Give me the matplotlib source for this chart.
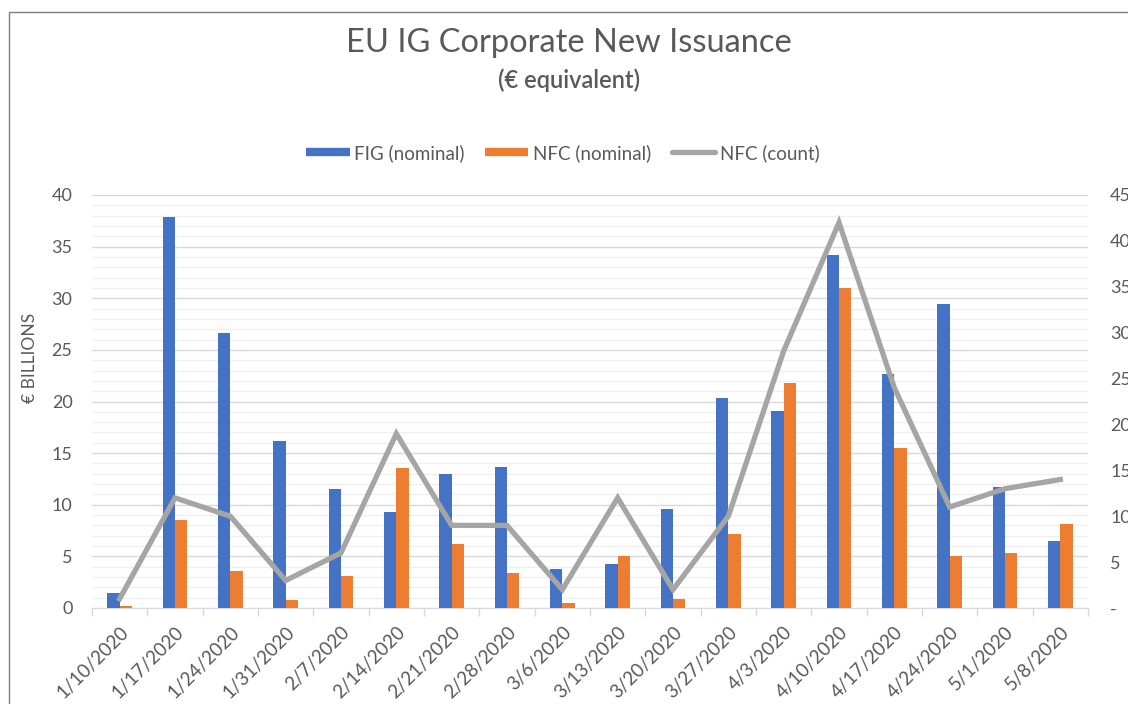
import numpy as np
import matplotlib.pyplot as plt
from matplotlib.lines import Line2D
from matplotlib.patches import Rectangle
from matplotlib.ticker import FuncFormatter

plt.rcParams['font.family'] = ['Lato', 'DejaVu Sans']

# Data
dates = ["1/10/2020", "1/17/2020", "1/24/2020", "1/31/2020", "2/7/2020",
         "2/14/2020", "2/21/2020", "2/28/2020", "3/6/2020", "3/13/2020",
         "3/20/2020", "3/27/2020", "4/3/2020", "4/10/2020", "4/17/2020",
         "4/24/2020", "5/1/2020", "5/8/2020"]
fig_nominal = [1.5, 37.9, 26.6, 16.2, 11.5, 9.3, 13.0, 13.7, 3.8, 4.3,
               9.6, 20.3, 19.1, 34.2, 22.7, 29.4, 11.7, 6.5]
nfc_nominal = [0.2, 8.5, 3.6, 0.8, 3.1, 13.6, 6.2, 3.4, 0.45, 5.0,
               0.9, 7.2, 21.8, 31.0, 15.5, 5.0, 5.3, 8.1]
nfc_count = [1, 12, 10, 3, 6, 19, 9, 9, 2, 12, 2, 10, 28, 42, 24, 11, 13, 14]

BLUE = "#4472C4"
ORANGE = "#ED7D31"
GREY = "#A5A5A5"
TXT = "#595959"

W, H = 1128, 704
fig = plt.figure(figsize=(W / 100, H / 100), dpi=100)
fig.patch.set_facecolor("white")

# chart border (cropped on right and bottom)
fig.patches.append(Rectangle((9 / W, -0.1), 1.2, 1.1 - 12 / H,
                             transform=fig.transFigure, fill=False,
                             edgecolor="#7F7F7F", lw=1.0))

ax = fig.add_axes([92 / W, 1 - 608 / H, (1088 - 92) / W, (608 - 195) / H])
x = np.arange(len(dates))
bw = 0.22
ax.bar(x - bw / 2, fig_nominal, bw, color=BLUE, zorder=3)
ax.bar(x + bw / 2, nfc_nominal, bw, color=ORANGE, zorder=3)

ax.set_xlim(-0.5, len(dates) - 0.5)
ax.set_ylim(0, 40)
ax.set_yticks(np.arange(0, 41, 5))
ax.set_yticks(np.arange(0, 41, 1), minor=True)
ax.grid(axis="y", which="major", color="#D9D9D9", lw=1.0, zorder=0)
ax.grid(axis="y", which="minor", color="#EFEFEF", lw=0.9, zorder=0)
ax.set_axisbelow(True)
ax.tick_params(axis="y", which="both", length=0, pad=14, labelsize=13,
               labelcolor=TXT)
ax.set_xticks(x)
ax.set_xticklabels(dates, rotation=45, ha="right", rotation_mode="anchor",
                   fontsize=13.5, color=TXT)
ax.tick_params(axis="x", which="major", length=0, pad=11)
ax.set_xticks(np.arange(-0.5, len(dates), 1), minor=True)
ax.tick_params(axis="x", which="minor", length=6, color="#D9D9D9", width=1)
for s in ["top", "right", "left"]:
    ax.spines[s].set_visible(False)
ax.spines["bottom"].set_color("#D9D9D9")

ax2 = ax.twinx()
ax2.plot(x, nfc_count, color=GREY, lw=3.8, solid_joinstyle="miter", zorder=4)
ax2.set_ylim(0, 45)
ax2.set_yticks(np.arange(0, 46, 5))
ax2.yaxis.set_major_formatter(FuncFormatter(lambda v, p: "-" if v == 0 else f"{v:.0f}"))
ax2.tick_params(axis="y", length=0, pad=16, labelsize=13, labelcolor=TXT)
for s in ["top", "right", "left", "bottom"]:
    ax2.spines[s].set_visible(False)

# titles
fig.text(569 / W, 1 - 43 / H, "EU IG Corporate New Issuance", ha="center",
         va="center", fontsize=23.5, color=TXT)
fig.text(569 / W, 1 - 80 / H, "(€ equivalent)", ha="center", va="center",
         fontsize=17, fontweight="semibold", color=TXT)
fig.text(30 / W, 1 - 358 / H, "€ BILLIONS", rotation=90, ha="center",
         va="center", fontsize=12.5, color=TXT)

handles = [Line2D([], [], color=BLUE, lw=6, solid_capstyle="butt"),
           Line2D([], [], color=ORANGE, lw=6, solid_capstyle="butt"),
           Line2D([], [], color=GREY, lw=3.8, solid_capstyle="round")]
labels = ["FIG (nominal)", "NFC (nominal)", "NFC (count)"]
fig.legend(handles, labels, loc="center", bbox_to_anchor=(563 / W, 1 - 153 / H),
           ncol=3, frameon=False, fontsize=13.5, handlelength=2.3,
           handletextpad=0.25, columnspacing=1.1, labelcolor=TXT)

fig.savefig("out.png", dpi=100)
